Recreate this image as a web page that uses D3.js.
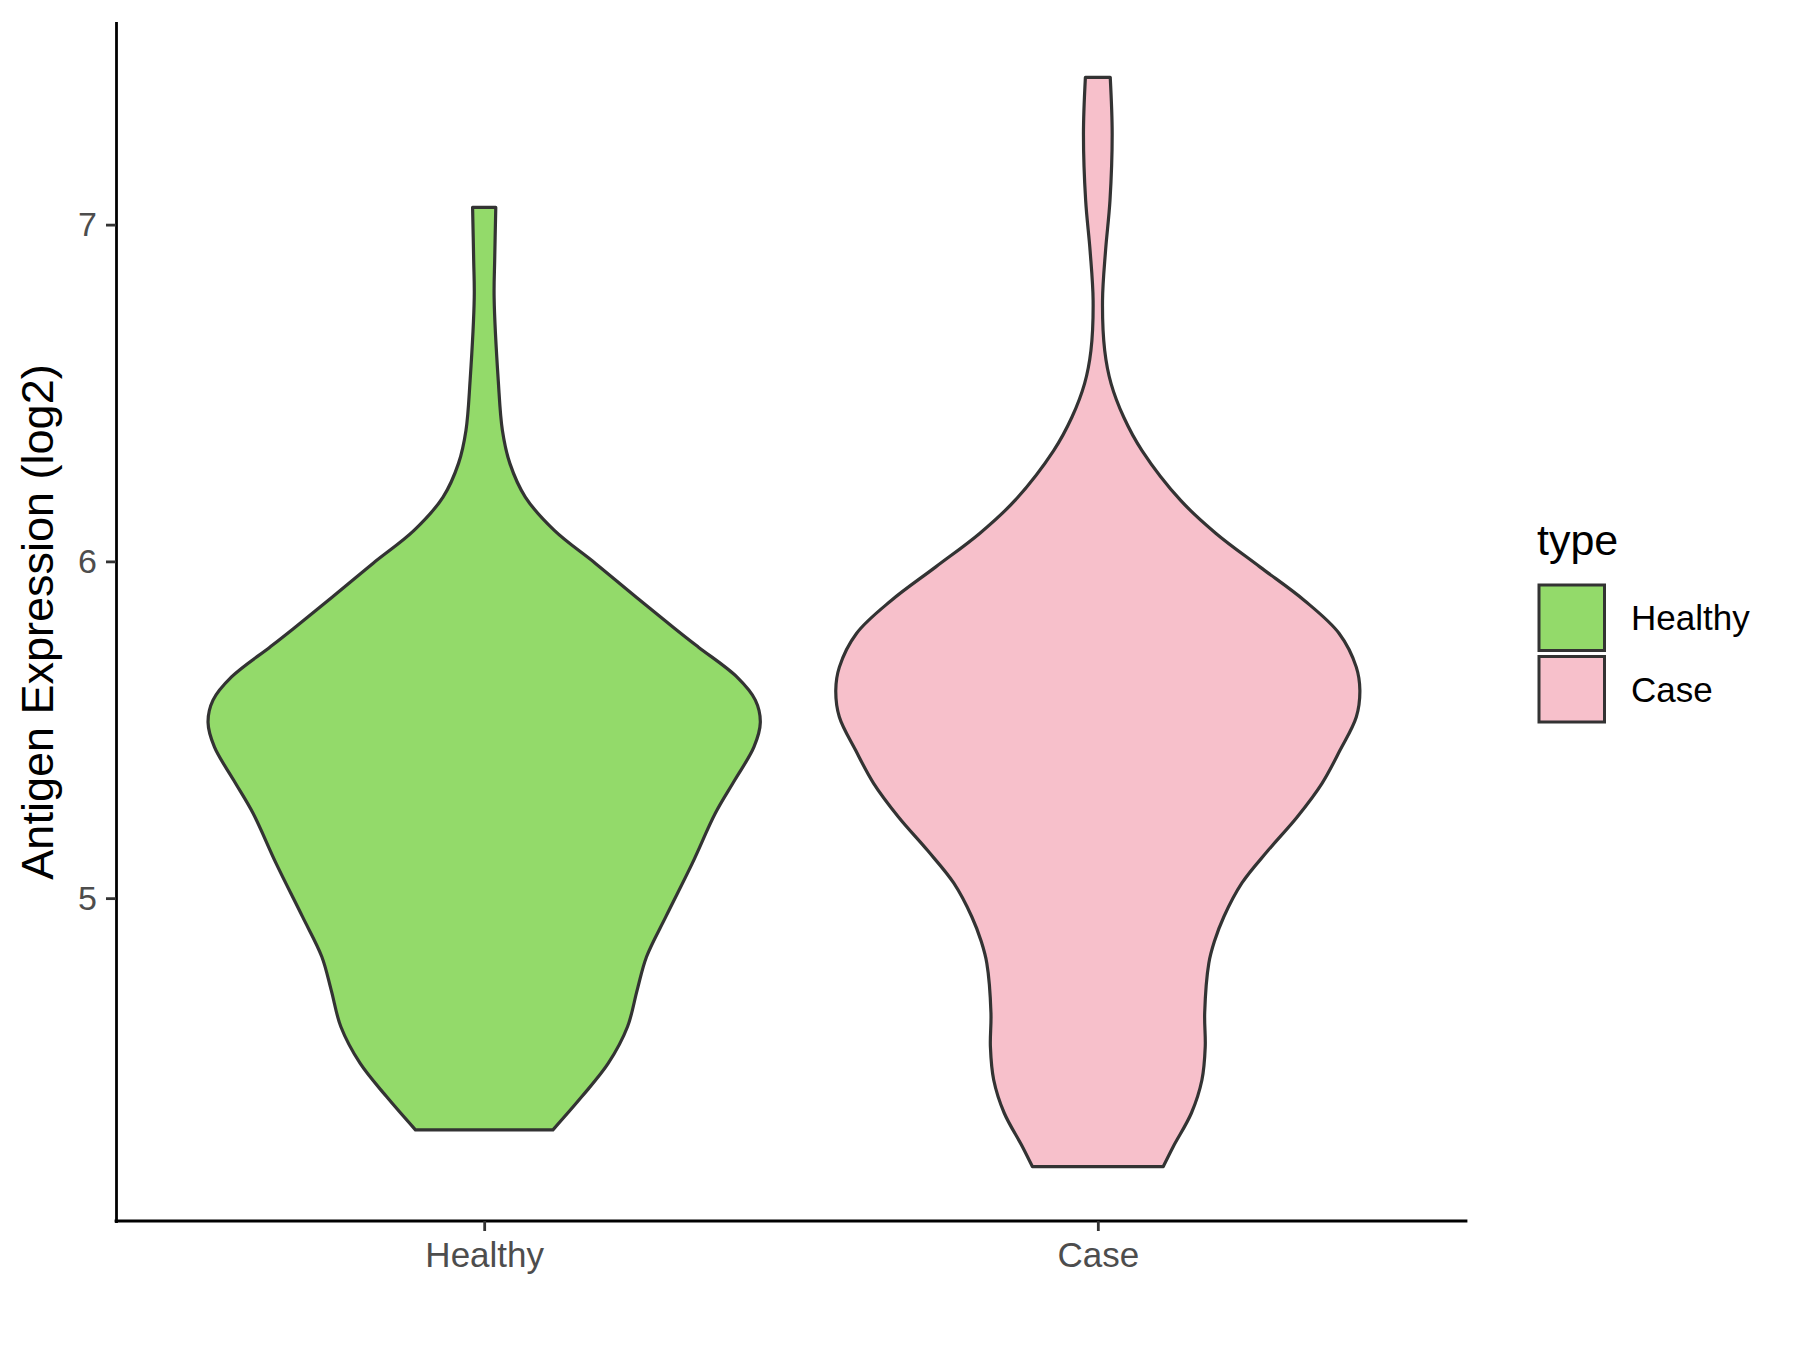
<!DOCTYPE html>
<html>
<head>
<meta charset="utf-8">
<script src="https://cdn.jsdelivr.net/npm/d3@7"></script>
<style>
  html, body { margin: 0; padding: 0; background: #ffffff; }
  svg { display: block; font-family: "Liberation Sans", Arial, sans-serif; }
</style>
</head>
<body>
<svg id="chart" width="1800" height="1350"></svg>
<script>
// ---------- data ----------
const categories = ["Healthy", "Case"];
const fillColors = ["#93DA6A", "#F7C0CB"];
const yTickValues = [5, 6, 7];
const yAxisTitle = "Antigen Expression (log2)";
const legendTitle = "type";

// violin outlines: expression value and relative density (half width)
const healthyValues  = [7.051, 6.893, 6.784, 6.537, 6.389, 6.291, 6.191, 6.092, 5.994, 5.893, 5.801, 5.746, 5.657, 5.588, 5.522, 5.449, 5.350, 5.252, 5.104, 4.945, 4.826, 4.727, 4.618, 4.509, 4.410, 4.312];
const healthyDensity = [0.042, 0.038, 0.036, 0.051, 0.066, 0.093, 0.149, 0.254, 0.403, 0.552, 0.690, 0.775, 0.915, 0.982, 1.000, 0.977, 0.907, 0.837, 0.754, 0.658, 0.588, 0.554, 0.519, 0.449, 0.353, 0.249];

const caseValues  = [7.437, 7.269, 7.071, 6.923, 6.774, 6.626, 6.528, 6.428, 6.329, 6.181, 6.083, 5.983, 5.884, 5.786, 5.686, 5.617, 5.538, 5.439, 5.341, 5.241, 5.142, 5.045, 4.944, 4.871, 4.807, 4.659, 4.559, 4.460, 4.362, 4.262, 4.203];
const caseDensity = [0.045, 0.052, 0.044, 0.028, 0.017, 0.025, 0.048, 0.094, 0.160, 0.300, 0.428, 0.588, 0.748, 0.874, 0.936, 0.949, 0.936, 0.877, 0.812, 0.722, 0.617, 0.522, 0.456, 0.422, 0.402, 0.387, 0.389, 0.377, 0.339, 0.273, 0.237];

// ---------- build ----------
const groups = [
  { name: categories[0], fill: fillColors[0], pts: healthyValues.map((v, i) => ({ v, d: healthyDensity[i] })) },
  { name: categories[1], fill: fillColors[1], pts: caseValues.map((v, i) => ({ v, d: caseDensity[i] })) }
];

const svg = d3.select("#chart");
const panel = { left: 116, right: 1466, top: 23, bottom: 1221 };

const allVals = healthyValues.concat(caseValues);
const vMin = d3.min(allVals), vMax = d3.max(allVals);
const pad = (vMax - vMin) * 0.05;

const y = d3.scaleLinear().domain([vMin - pad, vMax + pad]).range([panel.bottom, panel.top]);
const x = d3.scalePoint().domain(categories).range([panel.left, panel.right]).padding(0.6);
const maxD = d3.max(healthyDensity.concat(caseDensity));
const w = d3.scaleLinear().domain([0, maxD]).range([0, x.step() * 0.45]);

// violins
groups.forEach(g => {
  const cx = x(g.name);
  const area = d3.area()
    .y(p => y(p.v))
    .x0(p => cx - w(p.d))
    .x1(p => cx + w(p.d))
    .curve(d3.curveCatmullRom.alpha(0.5));
  svg.append("path")
    .datum(g.pts)
    .attr("d", area)
    .attr("fill", g.fill)
    .attr("stroke", "#333333")
    .attr("stroke-width", 3.2)
    .attr("stroke-linejoin", "round");
});

// y axis
const yAxis = d3.axisLeft(y).tickValues(yTickValues).tickSize(10).tickSizeOuter(0).tickPadding(9).tickFormat(d3.format("d"));
const gy = svg.append("g").attr("transform", `translate(${panel.left},0)`).call(yAxis);
gy.select(".domain").attr("stroke", "#000").attr("stroke-width", 2.8).attr("stroke-linecap", "square");
gy.selectAll(".tick line").attr("stroke", "#333").attr("stroke-width", 2.8);
gy.selectAll(".tick text").attr("fill", "#4D4D4D").style("font-size", "34px").attr("font-family", "Liberation Sans, Arial, sans-serif");

// x axis
const xAxis = d3.axisBottom(x).tickSize(10).tickSizeOuter(0).tickPadding(11);
const gx = svg.append("g").attr("transform", `translate(0,${panel.bottom})`).call(xAxis);
gx.select(".domain").attr("stroke", "#000").attr("stroke-width", 2.8).attr("stroke-linecap", "square")
  .attr("d", `M${panel.left},0H${panel.right}`);
gx.selectAll(".tick line").attr("stroke", "#333").attr("stroke-width", 2.8);
gx.selectAll(".tick text").attr("fill", "#4D4D4D").style("font-size", "35px").attr("font-family", "Liberation Sans, Arial, sans-serif");

// y axis title
svg.append("text")
  .attr("transform", `translate(53,${(panel.top + panel.bottom) / 2}) rotate(-90)`)
  .attr("text-anchor", "middle")
  .attr("fill", "#000")
  .style("font-size", "45px")
  .text(yAxisTitle);

// legend
const lg = svg.append("g");
lg.append("text").attr("x", 1537).attr("y", 555).attr("fill", "#000").style("font-size", "43px").text(legendTitle);
groups.forEach((g, i) => {
  const top = 585 + i * 71.5;
  lg.append("rect").attr("x", 1539).attr("y", top).attr("width", 65.5).attr("height", 65.5)
    .attr("fill", g.fill).attr("stroke", "#333333").attr("stroke-width", 3);
  lg.append("text").attr("x", 1631).attr("y", top + 32.75 + 12.5).attr("fill", "#000")
    .style("font-size", "35px").text(g.name);
});
</script>
</body>
</html>
